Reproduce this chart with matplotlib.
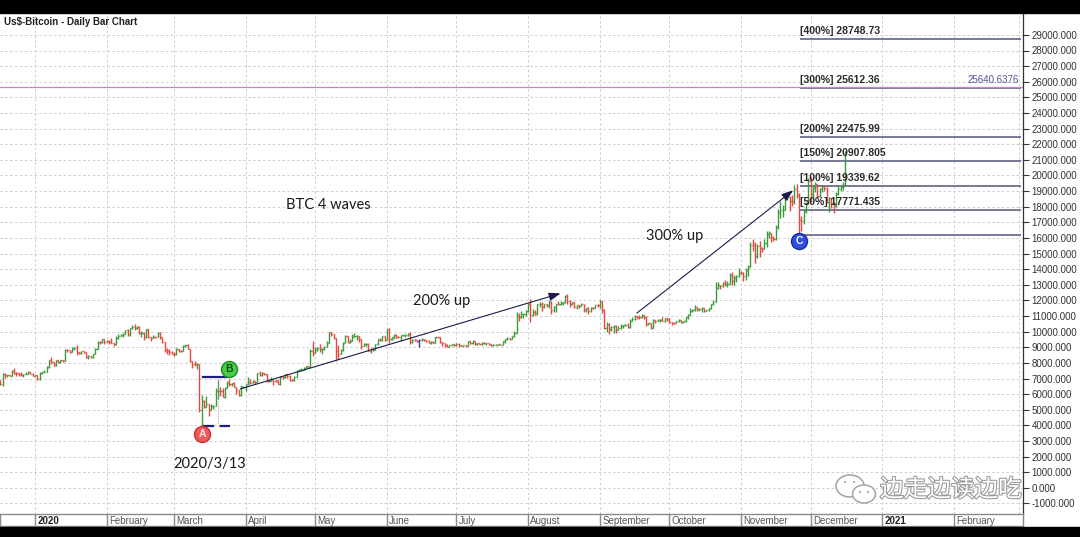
import numpy as np
import matplotlib
matplotlib.use("Agg")
import matplotlib.pyplot as plt
from matplotlib.collections import LineCollection
from matplotlib.patches import Rectangle, Ellipse
import matplotlib.patheffects as pe

# ---------------- data (daily bars, 2019-12-17 .. 2020-12-16) ----------------
start_date = "2019-12-17"
first_open = 6880
closes = [
    6640, 7276, 7202, 7218, 7191, 7511, 7355, 7322, 7275, 7238, 7290, 7317, 7422, 7292, 7193,
    7200, 6985, 7345, 7410, 7411, 7769, 8163, 8079, 7879, 8166, 8037, 8193, 8144, 8828, 8807, 8724,
    8929, 8942, 8707, 8658, 8745, 8681, 8407, 8445, 8368, 8597, 8910, 9358, 9317, 9509, 9351,
    9393, 9346, 9293, 9181, 9614, 9730, 9796, 9865, 10117, 9856, 10208, 10327, 10214, 10312, 9889,
    9934, 9690, 10141, 9634, 9608, 9686, 9663, 9925, 9651, 9342, 8820, 8784, 8672, 8600,
    8563, 8869, 8787, 8756, 9078, 9122, 8909, 8108, 7923, 7909, 7911, 4970, 5563, 5200, 5392,
    5014, 5225, 5238, 6191, 6198, 6185, 5830, 6416, 6735, 6681, 6716, 6469, 6243, 5922, 6429, 6438,
    6640, 6794, 6734, 6857, 6780, 7331, 7199, 7361, 7284, 6859, 6866, 6914, 6845, 6843, 6643,
    7117, 7097, 7258, 7190, 6881, 6880, 7118, 7482, 7551, 7556, 7705, 7790, 7758, 8778, 8621,
    8826, 8981, 8897, 8912, 9003, 9268, 9952, 9842, 9593, 8756, 8601, 8804, 9269, 9734, 9328,
    9377, 9670, 9727, 9729, 9522, 9081, 9182, 9209, 8791, 8906, 8835, 9181, 9525, 9439, 9700, 9461,
    10167, 9529, 9656, 9800, 9665, 9653, 9759, 9771, 9795, 9870, 9321, 9480, 9475, 9386, 9454,
    9538, 9480, 9411, 9288, 9332, 9303, 9648, 9629, 9313, 9265, 9162, 9046, 9143, 9190, 9137,
    9228, 9123, 9087, 9133, 9073, 9375, 9253, 9429, 9233, 9289, 9235, 9303, 9243, 9244, 9190,
    9133, 9154, 9171, 9209, 9164, 9392, 9537, 9608, 9547, 9705, 9934, 10990, 10913, 11100, 11111, 11323,
    11760, 11053, 11246, 11205, 11747, 11779, 11601, 11754, 11675, 11878, 11411, 11584, 11784, 11768, 11865,
    11893, 12254, 11991, 11758, 11878, 11592, 11681, 11664, 11774, 11366, 11488, 11324, 11542, 11507, 11711, 11680,
    11970, 11414, 10245, 10512, 10169, 10280, 10369, 10131, 10242, 10363, 10400, 10442, 10324, 10681, 10797,
    10974, 10948, 10944, 11094, 10938, 10462, 10538, 10246, 10760, 10692, 10750, 10776, 10709, 10845, 10784,
    10620, 10585, 10565, 10681, 10724, 10604, 10668, 10915, 11064, 11297, 11384, 11555, 11425, 11430, 11505,
    11320, 11360, 11504, 11751, 11917, 12823, 12965, 12931, 13108, 13031, 13075, 13655, 13272, 13437, 13546, 13781,
    13737, 13550, 13950, 14133, 15579, 15565, 14833, 15479, 15332, 15290, 15701, 16276, 16317, 16068, 15955,
    16716, 17645, 17804, 17817, 18621, 18642, 18370, 18364, 19107, 18732, 17150, 17108, 17717, 18177, 19625,
    18803, 19201, 19445, 18699, 19154, 19345, 19191, 18321, 18553, 18264, 18058, 18803, 19142, 19247, 19417, 21310,
]
highs = [
    6930, 7370, 7345, 7240, 7224, 7519, 7683, 7436, 7357, 7434, 7300, 7400, 7513, 7436, 7332,
    7255, 7212, 7414, 7427, 7544, 7781, 8207, 8396, 8083, 8180, 8200, 8197, 8198, 8880, 8900, 8810,
    9010, 8988, 9164, 8717, 8755, 8790, 8680, 8510, 8440, 8600, 8980, 9375, 9400, 9560, 9520,
    9440, 9470, 9600, 9300, 9700, 9830, 9860, 9900, 10130, 10160, 10230, 10440, 10500, 10340, 10360,
    10050, 9960, 10160, 10200, 9680, 9760, 9700, 9950, 9990, 9650, 9370, 8980, 8880, 8770,
    8720, 8930, 8910, 8840, 9140, 9170, 9180, 8910, 8140, 8100, 7970, 7930, 5940, 5640, 5880,
    5390, 5400, 5330, 6390, 6900, 6440, 6400, 6440, 6840, 6980, 6740, 6800, 6460, 6270, 6600, 6520,
    6660, 7090, 7000, 6900, 6870, 7360, 7460, 7390, 7370, 7300, 6940, 7080, 6920, 6950, 6920,
    7160, 7150, 7310, 7270, 7240, 6940, 7140, 7520, 7600, 7660, 7740, 7800, 7800, 8880, 9400,
    9000, 9010, 9180, 8950, 9090, 9380, 9980, 10000, 9850, 9600, 9120, 8890, 9310, 9800, 9750,
    9560, 9840, 9900, 9800, 9740, 9550, 9270, 9300, 9300, 8980, 9000, 9200, 9560, 9580, 9720, 9700,
    10200, 10220, 9690, 9880, 9840, 9720, 9800, 9800, 9880, 9940, 9950, 9530, 9500, 9490, 9500,
    9580, 9560, 9490, 9460, 9390, 9400, 9680, 9670, 9680, 9320, 9290, 9200, 9170, 9210, 9200,
    9290, 9260, 9140, 9160, 9140, 9380, 9380, 9450, 9430, 9300, 9300, 9320, 9340, 9270, 9260,
    9200, 9180, 9200, 9220, 9220, 9420, 9540, 9640, 9620, 9730, 10040, 11250, 11190, 11300, 11160, 11400,
    11860, 12070, 11470, 11400, 11790, 11900, 11910, 11800, 11800, 12040, 11940, 11670, 11790, 11990, 11950,
    11910, 12360, 12400, 12000, 11890, 11880, 11690, 11700, 11820, 11780, 11530, 11590, 11560, 11580, 11720, 11780,
    12050, 11950, 11460, 10620, 10560, 10340, 10400, 10440, 10350, 10490, 10420, 10470, 10560, 10780, 10930,
    11080, 11030, 11080, 11160, 11090, 10980, 10560, 10550, 10790, 10760, 10780, 10810, 10930, 10860, 10850,
    10900, 10650, 10600, 10700, 10800, 10760, 10680, 10950, 11100, 11490, 11430, 11700, 11560, 11540, 11570,
    11530, 11390, 11520, 11800, 12000, 13200, 13160, 13000, 13160, 13330, 13220, 13750, 13840, 13610, 13630, 14050,
    13860, 13810, 14050, 14240, 15740, 15950, 15770, 15640, 15800, 15450, 15950, 16450, 16460, 16320, 16140,
    16800, 17860, 18390, 18100, 18800, 18920, 18680, 18750, 19390, 19460, 18890, 17400, 17830, 18280, 19830,
    19900, 19300, 19550, 19480, 19170, 19410, 19380, 19280, 18640, 18560, 18280, 18940, 19400, 19330, 19560, 21560,
]
lows = [
    6560, 6540, 7040, 7120, 7145, 7180, 7270, 7158, 7150, 7173, 7077, 7283, 7300, 7260, 7170,
    7175, 6935, 6915, 7309, 7400, 7410, 7700, 7956, 7808, 7786, 8018, 8000, 8079, 8141, 8700, 8610,
    8720, 8836, 8530, 8555, 8560, 8636, 8300, 8240, 8310, 8330, 8565, 8890, 9230, 9260, 9235,
    9310, 9200, 9250, 9100, 9170, 9550, 9720, 9670, 9860, 9750, 9720, 10200, 10110, 10140, 9850,
    9630, 9450, 9600, 9600, 9420, 9580, 9610, 9650, 9510, 9300, 8700, 8550, 8480, 8540,
    8470, 8530, 8670, 8690, 8760, 9010, 8880, 8080, 7690, 7770, 7600, 4860, 3860, 5090, 5170,
    4580, 5000, 5020, 5240, 5700, 5870, 5790, 5730, 6400, 6540, 6540, 6430, 6030, 5890, 5900, 6380,
    6170, 6600, 6620, 6690, 6680, 6780, 7150, 7180, 7200, 6800, 6790, 6810, 6610, 6790, 6620,
    6560, 7000, 7060, 7060, 6840, 6830, 6850, 7090, 7470, 7500, 7540, 7690, 7670, 7740, 8450,
    8630, 8770, 8720, 8580, 8850, 8990, 9260, 9750, 9530, 8120, 8250, 8560, 8790, 9260, 9270,
    9250, 9380, 9640, 9480, 9350, 8880, 9080, 9100, 8740, 8650, 8780, 8820, 9130, 9390, 9400, 9420,
    9450, 9300, 9460, 9530, 9590, 9570, 9400, 9700, 9680, 9720, 9230, 9270, 9400, 9310, 8990,
    9380, 9400, 9330, 9250, 9200, 9280, 9300, 9600, 9250, 9100, 9040, 8990, 9010, 9080, 9090,
    9110, 9040, 9050, 9070, 8990, 9060, 9230, 9240, 9170, 9130, 9200, 9170, 9200, 9120, 9160,
    9060, 9090, 9140, 9120, 9140, 9150, 9300, 9480, 9480, 9540, 9670, 9900, 10660, 10870, 10880, 10990,
    11230, 10650, 10990, 11040, 11090, 11600, 11300, 11540, 11560, 11530, 11150, 11280, 11290, 11680, 11700,
    11700, 11840, 11800, 11600, 11690, 11520, 11450, 11540, 11620, 11280, 11290, 11150, 11290, 11460, 11490, 11590,
    11530, 11190, 10200, 9990, 9880, 10050, 9920, 9920, 10110, 10200, 10220, 10340, 10250, 10260, 10660,
    10730, 10800, 10820, 10900, 10800, 10370, 10400, 10150, 10210, 10580, 10660, 10640, 10660, 10650, 10710,
    10550, 10400, 10520, 10540, 10630, 10540, 10570, 10620, 10830, 11050, 11280, 11300, 11320, 11310, 11290,
    11230, 11300, 11350, 11480, 11680, 11900, 12720, 12720, 12880, 12900, 12880, 13100, 13000, 12990, 13150, 13520,
    13680, 13240, 13300, 13540, 14110, 15180, 14420, 14740, 14800, 15100, 15280, 15450, 15990, 15710, 15800,
    15870, 16560, 17280, 17340, 17780, 18420, 17750, 18050, 18170, 18580, 16330, 16470, 16900, 17590, 18180,
    18330, 18530, 18930, 18610, 18620, 18950, 19010, 18250, 17650, 17940, 17610, 18000, 18750, 19000, 19060, 19300,
]
highlight_date = "2020-06-15"

month_labels = ["2020", "February", "March", "April", "May", "June", "July", "August",
                "September", "October", "November", "December", "2021", "February"]
bold_labels = ["2020", "2021"]

# Fibonacci extension levels
level_values = [28748.73, 25612.36, 22475.99, 20907.805, 19339.62, 17771.435, 16203.25]
level_pcts = ["400%", "300%", "200%", "150%", "100%", "50%", ""]
hline_value = 25640.6376

# wave points (day offset from 2020-01-01, price)
wave_points = [("A", 72.3, 3430), ("B", 83.8, 7610), ("C", 330.0, 15820)]
ab_high = 7117
ab_low = 3980
trend_200 = [(88.6, 6330), (227.0, 12450)]
trend_300 = [(260.0, 11190), (327.5, 19050)]

# ---------------- layout ----------------
W, H = 1080, 537
fig = plt.figure(figsize=(W / 100, H / 100), dpi=100)
fig.patch.set_facecolor("white")

def rect(x0, y0, x1, y1):
    return [x0 / W, 1 - y1 / H, (x1 - x0) / W, (y1 - y0) / H]

PPU = 0.01562      # pixels per price unit
Y18 = 206.7        # pixel row of 18000
XD0, PPD = 35.0, 2.315  # pixel col of 2020-01-01, pixels per day
PLOT_TOP, PLOT_BOT, PLOT_RIGHT = 13, 514, 1023

ax = fig.add_axes(rect(0, PLOT_TOP, PLOT_RIGHT, PLOT_BOT))
ax.set_ylim(18000 - (PLOT_BOT - Y18) / PPU, 18000 + (Y18 - PLOT_TOP) / PPU)
ax.set_xlim((0 - XD0) / PPD, (PLOT_RIGHT - XD0) / PPD)

t0 = np.datetime64("2020-01-01")
dates = np.datetime64(start_date) + np.arange(len(closes))
xd = (dates - t0).astype(float)
c = np.array(closes, float)
o = np.r_[first_open, c[:-1]]
h = np.maximum(np.array(highs, float), np.maximum(o, c))
l = np.minimum(np.array(lows, float), np.minimum(o, c))

month_starts = np.arange(np.datetime64("2020-01"), np.datetime64("2021-04"), np.timedelta64(1, "M"))
ms_days = (month_starts.astype("datetime64[D]") - t0).astype(float)

# grid
grid_kw = dict(color="#cdcdcd", lw=0.7, linestyles=(0, (2.5, 2.5)), zorder=0)
ax.hlines(np.arange(-1000, 29001, 1000), *ax.get_xlim(), **grid_kw)
ax.vlines(ms_days, *ax.get_ylim(), **grid_kw)

# bars
green, red, blue = "#3b9b3b", "#e8483f", "#2040c0"
hl_idx = int((np.datetime64(highlight_date) - np.datetime64(start_date)).astype(int))
segs, cols = [], []
tw = 0.45
for i in range(len(c)):
    col = green if c[i] >= o[i] else red
    if i == hl_idx:
        col = blue
    segs += [[(xd[i], l[i]), (xd[i], h[i])],
             [(xd[i] - tw, o[i]), (xd[i], o[i])],
             [(xd[i], c[i]), (xd[i] + tw, c[i])]]
    cols += [col] * 3
ax.add_collection(LineCollection(segs, colors=cols, linewidths=1.0, zorder=3))

# fib levels
lx0, lx1 = (800 - XD0) / PPD, (1021 - XD0) / PPD
for v, p in zip(level_values, level_pcts):
    ax.plot([lx0, lx1], [v, v], color="#6c7090", lw=1.3, zorder=2, solid_capstyle="butt")
    if p:
        ax.text(lx0, v + 190, f"[{p}] {v}", fontsize=7.5, fontweight="bold",
                family="Liberation Sans", color="#2a2a2a", va="bottom", ha="left", zorder=6)
ax.axhline(hline_value, color="#d27ccc", lw=0.9, zorder=4)
ax.text(lx1 - 1, hline_value + 150, f"{hline_value:.4f}", fontsize=7, family="Liberation Sans",
        color="#55559a", ha="right", va="bottom", zorder=6)

# trend lines with arrowheads
for (p0, p1) in (trend_200, trend_300):
    ax.annotate("", xy=p1, xytext=p0, zorder=5,
                arrowprops=dict(arrowstyle="-|>,head_length=0.7,head_width=0.25",
                                color="#1c1c4c", lw=0.8, shrinkA=0, shrinkB=0))

# A-B levels
ax.plot([72.6, 83.4], [ab_high, ab_high], color="#1e1e80", lw=1.6, zorder=5)
ax.plot([72.6, 84.2], [ab_low, ab_low], color="#1e1e80", lw=1.6, ls=(0, (5, 2.5)), zorder=5)
ax.plot([79.0, 79.0], [ab_low, ab_high], color="#999999", lw=0.7, ls=(0, (1, 1.5)), zorder=4)

# wave markers
mk_style = {"A": ("#f05a5a", "#c83030", "#ffe4e4"),
            "B": ("#46cc46", "#238a23", "#0d4d0d"),
            "C": ("#2f4fe6", "#1a2a9a", "white")}
for lab, xdv, yv in wave_points:
    fc, ec, tc = mk_style[lab]
    ax.plot([xdv], [yv], "o", ms=11.5, mfc=fc, mec=ec, mew=1.0, zorder=7)
    ax.text(xdv, yv, lab, ha="center", va="center", fontsize=7.5, fontweight="bold",
            family="Liberation Sans", color=tc, zorder=8)

# right axis
ax.yaxis.tick_right()
yt = np.arange(-1000, 29001, 1000)
ax.set_yticks(yt)
ax.set_yticklabels([f"{v:.3f}" for v in yt], family="Liberation Sans")
ax.tick_params(axis="y", direction="out", length=4, width=0.8, colors="#333333",
               labelsize=7, pad=2)
ax.set_xticks([])
for s in ("left", "top", "bottom"):
    ax.spines[s].set_visible(False)
ax.spines["right"].set_linestyle((0, (1, 1)))
ax.spines["right"].set_color("#333333")
ax.spines["right"].set_linewidth(0.9)

# date strip
ax2 = fig.add_axes(rect(0, 514, PLOT_RIGHT, 526))
ax2.set_xlim(ax.get_xlim())
ax2.set_ylim(0, 1)
ax2.set_xticks([]); ax2.set_yticks([])
for s in ax2.spines.values():
    s.set_color("#8a8a8a"); s.set_linewidth(1.0)
ax2.vlines(ms_days[:len(month_labels)], 0, 1, color="#8a8a8a", lw=1.0)
for d, lab in zip(ms_days, month_labels):
    b = lab in bold_labels
    ax2.text(d + 1.0, 0.45, lab, fontsize=7, family="Liberation Sans",
             fontweight="bold" if b else "normal", color="#222222" if b else "#555555",
             va="center", ha="left")

# overlay (pixel coords)
ov = fig.add_axes([0, 0, 1, 1], zorder=10)
ov.set_xlim(0, W); ov.set_ylim(H, 0); ov.axis("off"); ov.patch.set_alpha(0)
ov.add_patch(Rectangle((0, 0), W, 13, color="black"))
ov.add_patch(Rectangle((0, 527), W, 10, color="black"))
ov.text(4, 22, "Us$-Bitcoin - Daily Bar Chart", fontsize=7, fontweight="bold",
        family="Liberation Sans", color="#222222", va="center", ha="left")
txt_kw = dict(family="Lato", color="#1a1a1a", ha="center", va="center")
ov.text(328, 205, "BTC 4 waves", fontsize=10.5, **txt_kw)
ov.text(442, 301, "200% up", fontsize=10.5, **txt_kw)
ov.text(675, 236, "300% up", fontsize=10.5, **txt_kw)
ov.text(210, 464, "2020/3/13", fontsize=10.5, **txt_kw)

# watermark
ov.add_patch(Ellipse((850, 486), 28, 22, fc="white", ec="#a9a9a9", lw=1.2))
ov.add_patch(Ellipse((864, 494), 23, 18, fc="white", ec="#a9a9a9", lw=1.2))
for ex, ey in ((845, 482), (854, 482), (860, 492), (868, 492)):
    ov.add_patch(Ellipse((ex, ey), 2.2, 2.2, fc="#a9a9a9", ec="none"))
wm = ov.text(880, 490, "边走边读边吃", fontsize=17, family=["Noto Sans CJK SC", "DejaVu Sans"],
             color="white", va="center", ha="left")
wm.set_path_effects([pe.withStroke(linewidth=1.6, foreground="#9c9c9c")])

fig.savefig("out.png", dpi=100, facecolor="white")
